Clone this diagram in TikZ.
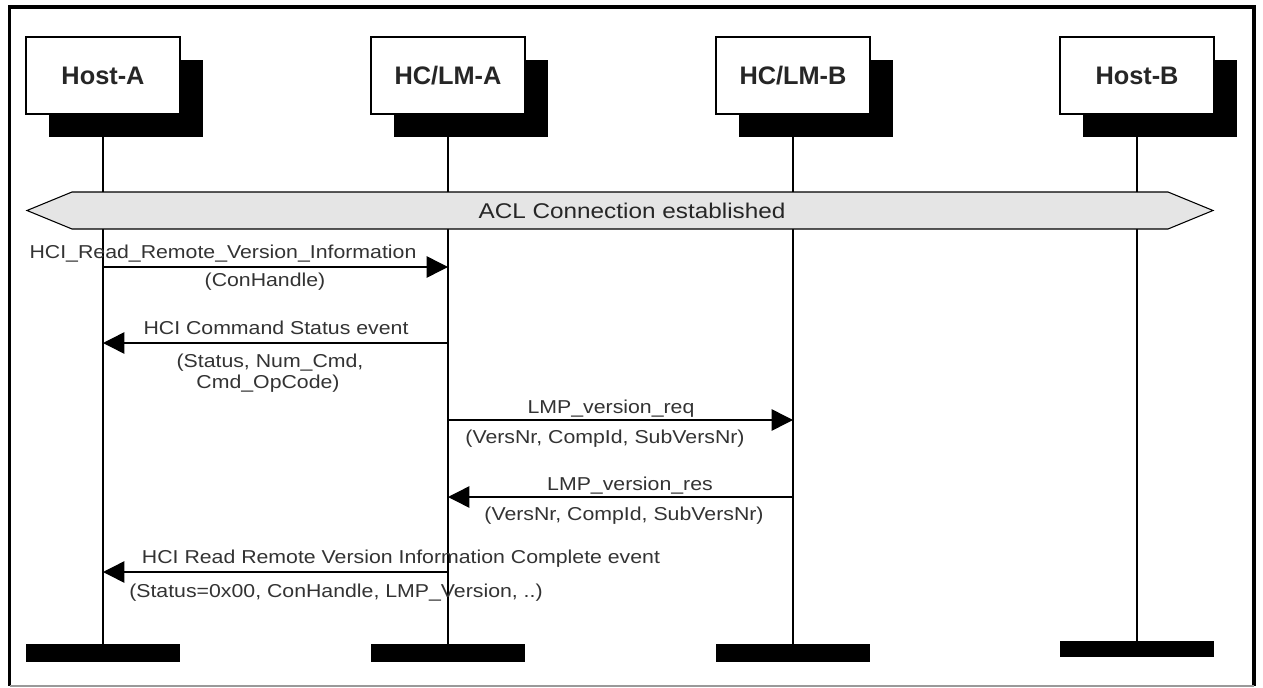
\documentclass[tikz,border=0pt]{standalone}
\usepackage{fontspec}
\setmainfont{Liberation Sans}
\newfontfamily\msgfont{Liberation Sans}[FakeStretch=1.14]
\usetikzlibrary{arrows.meta,shadows}

\tikzset{
    entity/.style={draw, fill=white, line width=0.8pt, minimum width=115.5pt,
      minimum height=57.75pt, text=black!85,
      font=\fontsize{19}{22}\selectfont\bfseries,
      drop shadow={shadow xshift=17.25pt, shadow yshift=-17.25pt, fill=black, opacity=1}},
    endbar/.style={fill=black, inner sep=0pt, minimum width=115.5pt, minimum height=13.5pt},
    lifeline/.style={line width=1.1pt},
    msg/.style={line width=1.1pt, -{Triangle[length=16pt,width=16pt]}},
    lbl/.style={font=\msgfont\fontsize{14}{16}\selectfont, text=black!80, inner sep=0pt, anchor=base},
    banner/.style={draw, line width=0.8pt, fill=black!10}
}

\begin{document}
\begin{tikzpicture}[x=0.75pt,y=-0.75pt]
    \useasboundingbox (0,0) rectangle (1263,688);
    \fill[white] (0,0) rectangle (1263,688);
    \draw[line width=2.4pt] (9.5,686) -- (9.5,7) -- (1254,7) -- (1254,686);
    \draw[black!40, line width=1.5pt] (9.5,686) -- (1254,686);

    \foreach \name/\x/\txt in {hosta/103/{Host-A}, lma/448/{HC/LM-A}, lmb/793/{HC/LM-B}}{%
      \node[entity] (\name) at (\x,75.5) {\txt};
      \node[endbar] (\name-end) at (\x,653) {};
      \draw[lifeline] (\name) -- (\name-end);
    }
    \node[entity] (hostb) at (1137,75.5) {Host-B};
    \node[endbar, minimum height=12pt] (hostb-end) at (1137,649) {};
    \draw[lifeline] (hostb) -- (hostb-end);

    \draw[banner] (27,210.5) -- (72,192) -- (1168,192) -- (1213,210.5) -- (1168,229) -- (72,229) -- cycle;
    \node[font=\msgfont\fontsize{16}{18}\selectfont, text=black!85] (acl) at (632,210.5) {ACL Connection established};

    \foreach \y/\n in {267/1, 343/2, 420/3, 497/4, 572/5}{%
      \foreach \l in {hosta,lma,lmb}{%
        \coordinate (\l-\n) at (\l |- 0,\y);
      }
    }

    \draw[msg] (hosta-1) -- (lma-1);
    \node[lbl] (readcmd) at (223,258) {HCI\_Read\_Remote\_Version\_Information};
    \node[lbl] (readarg) at (265,286) {(ConHandle)};

    \draw[msg] (lma-2) -- (hosta-2);
    \node[lbl] (status) at (276,334) {HCI Command Status event};
    \node[lbl] (statusarg) at (270,367) {(Status, Num\_Cmd,};
    \node[lbl] (statusarg2) at (268,388) {Cmd\_OpCode)};

    \draw[msg] (lma-3) -- (lmb-3);
    \node[lbl] (req) at (611,413) {LMP\_version\_req};
    \node[lbl] (reqarg) at (605,443) {(VersNr, CompId, SubVersNr)};

    \draw[msg] (lmb-4) -- (lma-4);
    \node[lbl] (res) at (630,490) {LMP\_version\_res};
    \node[lbl] (resarg) at (624,520) {(VersNr, CompId, SubVersNr)};

    \draw[msg] (lma-5) -- (hosta-5);
    \node[lbl] (done) at (401,563) {HCI Read Remote Version Information Complete event};
    \node[lbl] (donearg) at (336,597) {(Status=0x00, ConHandle, LMP\_Version, ..)};
\end{tikzpicture}
\end{document}
